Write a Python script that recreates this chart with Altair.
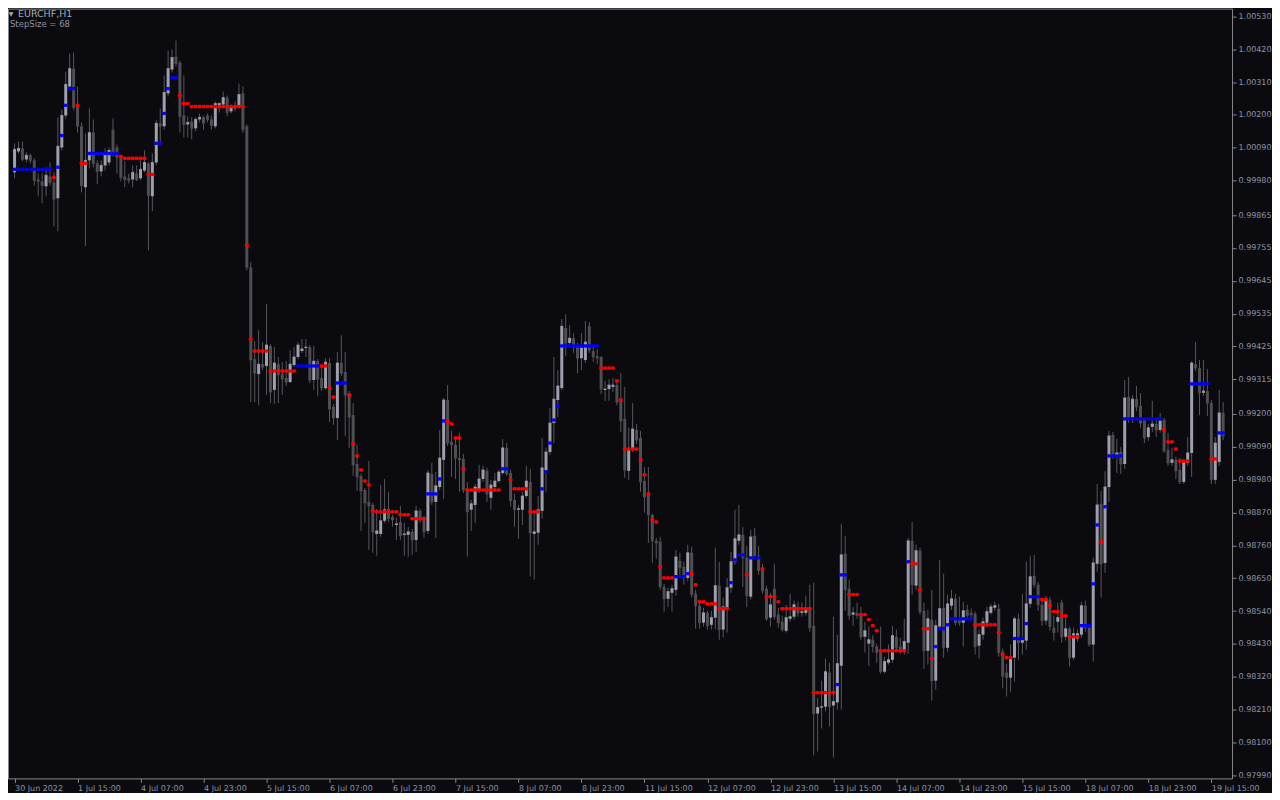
import altair as alt
import pandas as pd

# ---- EURCHF H1 candles (bar 0 = 30 Jun 2022 23:00) ----
opens = [
1.00008, 1.00078, 1.00088, 1.00051, 1.00065, 1.00048, 0.99984, 0.99978, 0.99961, 0.99994,
0.99974, 0.99921, 1.00091, 1.00198, 1.00295, 1.00355, 1.00228, 1.00162, 0.99958, 1.00048,
1.00141, 1.00038, 1.00011, 1.00031, 1.00041, 1.00151, 1.00091, 1.00058, 0.99994, 0.99988,
0.99984, 1.00004, 0.99988, 1.00014, 1.00038, 0.99928, 1.00041, 1.00172, 1.00162, 1.00272,
1.00352, 1.00395, 1.00375, 1.00198, 1.00168, 1.00178, 1.00155, 1.00185, 1.00192, 1.00198,
1.00185, 1.00162, 1.00232, 1.00235, 1.00258, 1.00212, 1.00232, 1.00228, 1.00272, 1.00162,
0.99690, 0.99383, 0.99333, 0.99366, 0.99360, 0.99427, 0.99280, 0.99366, 0.99333, 0.99320,
0.99306, 0.99363, 0.99390, 0.99410, 0.99420, 0.99423, 0.99313, 0.99376, 0.99320, 0.99286,
0.99370, 0.99223, 0.99186, 0.99370, 0.99340, 0.99269, 0.99196, 0.99032, 0.98992, 0.98945,
0.98905, 0.98895, 0.98798, 0.98798, 0.98842, 0.98882, 0.98855, 0.98828, 0.98838, 0.98795,
0.98795, 0.98805, 0.98778, 0.98875, 0.98852, 0.98808, 0.98999, 0.98905, 0.98955, 0.99046,
0.99246, 0.99106, 0.99096, 0.99052, 0.99049, 0.98949, 0.98879, 0.98895, 0.98945, 0.98982,
0.99009, 0.98919, 0.98955, 0.98975, 0.99002, 0.99086, 0.99002, 0.98912, 0.98879, 0.98879,
0.98925, 0.98972, 0.98798, 0.98802, 0.98875, 0.99012, 0.99072, 0.99169, 0.99246, 0.99286,
0.99487, 0.99437, 0.99453, 0.99423, 0.99386, 0.99380, 0.99493, 0.99410, 0.99393, 0.99390,
0.99280, 0.99283, 0.99290, 0.99296, 0.99243, 0.99183, 0.99009, 0.99079, 0.99146, 0.99119,
0.98975, 0.98929, 0.98862, 0.98775, 0.98772, 0.98621, 0.98581, 0.98601, 0.98611, 0.98708,
0.98688, 0.98651, 0.98735, 0.98598, 0.98558, 0.98501, 0.98534, 0.98494, 0.98518, 0.98625,
0.98478, 0.98551, 0.98618, 0.98705, 0.98775, 0.98795, 0.98718, 0.98588, 0.98792, 0.98725,
0.98678, 0.98615, 0.98518, 0.98615, 0.98528, 0.98504, 0.98474, 0.98514, 0.98521, 0.98554,
0.98534, 0.98534, 0.98551, 0.98491, 0.98197, 0.98217, 0.98220, 0.98334, 0.98224, 0.98234,
0.98357, 0.98732, 0.98615, 0.98528, 0.98534, 0.98528, 0.98454, 0.98431, 0.98444, 0.98421,
0.98407, 0.98337, 0.98367, 0.98377, 0.98454, 0.98421, 0.98404, 0.98434, 0.98775, 0.98625,
0.98742, 0.98541, 0.98407, 0.98511, 0.98307, 0.98488, 0.98551, 0.98417, 0.98558, 0.98581,
0.98511, 0.98501, 0.98544, 0.98534, 0.98531, 0.98424, 0.98461, 0.98501, 0.98534, 0.98551,
0.98548, 0.98404, 0.98334, 0.98317, 0.98384, 0.98514, 0.98434, 0.98441, 0.98564, 0.98658,
0.98628, 0.98561, 0.98508, 0.98578, 0.98484, 0.98504, 0.98568, 0.98454, 0.98481, 0.98384,
0.98448, 0.98461, 0.98558, 0.98484, 0.98428, 0.98698, 0.98899, 0.98701, 0.98955, 0.99129,
0.99059, 0.99072, 0.99032, 0.99256, 0.99186, 0.99249, 0.99226, 0.99179, 0.99122, 0.99156,
0.99166, 0.99146, 0.99179, 0.99079, 0.99036, 0.99046, 0.99012, 0.98972, 0.99036, 0.99069,
0.99366, 0.99353, 0.99270, 0.99276, 0.99236, 0.98979, 0.99039, 0.99203,
]

highs = [
1.00105, 1.00111, 1.00111, 1.00075, 1.00071, 1.00055, 1.00004, 1.00004, 1.00025, 1.00041,
1.00008, 1.00192, 1.00218, 1.00345, 1.00405, 1.00409, 1.00295, 1.00175, 1.00138, 1.00222,
1.00185, 1.00048, 1.00048, 1.00088, 1.00091, 1.00188, 1.00101, 1.00065, 1.00045, 1.00004,
1.00031, 1.00031, 1.00048, 1.00081, 1.00041, 1.00071, 1.00182, 1.00222, 1.00332, 1.00415,
1.00419, 1.00449, 1.00382, 1.00332, 1.00195, 1.00192, 1.00192, 1.00205, 1.00198, 1.00205,
1.00198, 1.00245, 1.00242, 1.00278, 1.00265, 1.00235, 1.00245, 1.00305, 1.00295, 1.00168,
0.99707, 0.99443, 0.99480, 0.99440, 0.99567, 0.99433, 0.99423, 0.99390, 0.99373, 0.99376,
0.99413, 0.99423, 0.99440, 0.99450, 0.99450, 0.99430, 0.99427, 0.99383, 0.99356, 0.99386,
0.99386, 0.99233, 0.99406, 0.99463, 0.99406, 0.99276, 0.99236, 0.99096, 0.98999, 0.98952,
0.99042, 0.98902, 0.98882, 0.98962, 0.98982, 0.98939, 0.98862, 0.98852, 0.98892, 0.98835,
0.98822, 0.98815, 0.98892, 0.98882, 0.98858, 0.99012, 0.99036, 0.99006, 0.99146, 0.99253,
0.99296, 0.99143, 0.99122, 0.99136, 0.99066, 0.98972, 0.98912, 0.98965, 0.99029, 0.99026,
0.99019, 0.98979, 0.99002, 0.99012, 0.99116, 0.99102, 0.99012, 0.98932, 0.98895, 0.98939,
0.99026, 0.99016, 0.98865, 0.98925, 0.99119, 0.99086, 0.99219, 0.99390, 0.99346, 0.99517,
0.99533, 0.99497, 0.99470, 0.99437, 0.99470, 0.99510, 0.99507, 0.99430, 0.99417, 0.99393,
0.99310, 0.99316, 0.99320, 0.99313, 0.99336, 0.99290, 0.99153, 0.99236, 0.99166, 0.99143,
0.99022, 0.99022, 0.98865, 0.98785, 0.98788, 0.98631, 0.98618, 0.98628, 0.98745, 0.98735,
0.98705, 0.98762, 0.98755, 0.98611, 0.98578, 0.98551, 0.98541, 0.98541, 0.98752, 0.98705,
0.98585, 0.98651, 0.98738, 0.98879, 0.98895, 0.98822, 0.98758, 0.98812, 0.98818, 0.98758,
0.98698, 0.98625, 0.98601, 0.98698, 0.98551, 0.98525, 0.98561, 0.98598, 0.98575, 0.98571,
0.98568, 0.98591, 0.98628, 0.98635, 0.98250, 0.98307, 0.98381, 0.98367, 0.98521, 0.98461,
0.98832, 0.98792, 0.98645, 0.98554, 0.98568, 0.98554, 0.98504, 0.98488, 0.98458, 0.98431,
0.98488, 0.98387, 0.98428, 0.98491, 0.98478, 0.98451, 0.98514, 0.98785, 0.98838, 0.98762,
0.98752, 0.98568, 0.98544, 0.98611, 0.98511, 0.98711, 0.98665, 0.98595, 0.98611, 0.98598,
0.98588, 0.98571, 0.98561, 0.98548, 0.98538, 0.98478, 0.98518, 0.98554, 0.98564, 0.98571,
0.98564, 0.98414, 0.98364, 0.98428, 0.98521, 0.98531, 0.98598, 0.98705, 0.98725, 0.98728,
0.98638, 0.98575, 0.98591, 0.98588, 0.98525, 0.98568, 0.98578, 0.98521, 0.98488, 0.98484,
0.98478, 0.98571, 0.98575, 0.98494, 0.98718, 0.98965, 0.98942, 0.99009, 0.99143, 0.99139,
0.99116, 0.99089, 0.99313, 0.99323, 0.99263, 0.99293, 0.99269, 0.99189, 0.99166, 0.99243,
0.99179, 0.99203, 0.99186, 0.99136, 0.99086, 0.99056, 0.99052, 0.99046, 0.99122, 0.99376,
0.99440, 0.99380, 0.99380, 0.99350, 0.99246, 0.99122, 0.99280, 0.99239,
]

lows = [
0.99988, 1.00071, 1.00045, 1.00041, 1.00038, 0.99964, 0.99928, 0.99904, 0.99928, 0.99964,
0.99827, 0.99811, 1.00081, 1.00188, 1.00282, 1.00215, 1.00141, 0.99941, 0.99761, 1.00021,
1.00024, 0.99968, 0.99994, 1.00014, 1.00031, 1.00061, 1.00004, 0.99978, 0.99958, 0.99971,
0.99958, 0.99978, 0.99981, 1.00008, 0.99747, 0.99878, 1.00031, 1.00108, 1.00151, 1.00262,
1.00342, 1.00362, 1.00141, 1.00125, 1.00125, 1.00118, 1.00145, 1.00175, 1.00151, 1.00175,
1.00151, 1.00155, 1.00208, 1.00222, 1.00195, 1.00205, 1.00212, 1.00222, 1.00141, 0.99680,
0.99239, 0.99239, 0.99229, 0.99346, 0.99263, 0.99236, 0.99233, 0.99236, 0.99263, 0.99293,
0.99303, 0.99356, 0.99383, 0.99403, 0.99390, 0.99303, 0.99280, 0.99259, 0.99276, 0.99280,
0.99173, 0.99163, 0.99112, 0.99326, 0.99126, 0.99086, 0.98992, 0.98942, 0.98808, 0.98835,
0.98745, 0.98735, 0.98725, 0.98788, 0.98835, 0.98838, 0.98822, 0.98778, 0.98778, 0.98725,
0.98722, 0.98728, 0.98738, 0.98835, 0.98785, 0.98798, 0.98895, 0.98785, 0.98945, 0.98915,
0.99092, 0.98989, 0.98982, 0.98939, 0.98935, 0.98722, 0.98808, 0.98835, 0.98935, 0.98972,
0.98905, 0.98879, 0.98945, 0.98969, 0.98996, 0.98992, 0.98889, 0.98822, 0.98782, 0.98828,
0.98919, 0.98655, 0.98645, 0.98762, 0.98849, 0.98939, 0.99062, 0.99102, 0.99189, 0.99280,
0.99393, 0.99427, 0.99403, 0.99336, 0.99346, 0.99370, 0.99403, 0.99373, 0.99366, 0.99266,
0.99243, 0.99243, 0.99273, 0.99229, 0.99139, 0.98986, 0.98979, 0.99072, 0.99099, 0.98939,
0.98869, 0.98768, 0.98701, 0.98715, 0.98611, 0.98538, 0.98554, 0.98538, 0.98591, 0.98661,
0.98628, 0.98641, 0.98585, 0.98481, 0.98481, 0.98488, 0.98478, 0.98478, 0.98478, 0.98444,
0.98451, 0.98468, 0.98601, 0.98695, 0.98762, 0.98621, 0.98554, 0.98578, 0.98715, 0.98661,
0.98598, 0.98508, 0.98488, 0.98511, 0.98484, 0.98471, 0.98468, 0.98504, 0.98511, 0.98521,
0.98521, 0.98525, 0.98471, 0.98057, 0.98070, 0.98147, 0.98204, 0.98154, 0.98050, 0.98210,
0.98210, 0.98541, 0.98511, 0.98491, 0.98514, 0.98444, 0.98401, 0.98357, 0.98401, 0.98367,
0.98331, 0.98331, 0.98361, 0.98367, 0.98407, 0.98397, 0.98394, 0.98397, 0.98595, 0.98611,
0.98528, 0.98347, 0.98361, 0.98240, 0.98277, 0.98478, 0.98384, 0.98404, 0.98544, 0.98491,
0.98491, 0.98421, 0.98511, 0.98518, 0.98394, 0.98381, 0.98444, 0.98484, 0.98528, 0.98541,
0.98387, 0.98281, 0.98254, 0.98270, 0.98304, 0.98377, 0.98394, 0.98411, 0.98551, 0.98618,
0.98541, 0.98491, 0.98494, 0.98474, 0.98441, 0.98468, 0.98434, 0.98441, 0.98354, 0.98377,
0.98438, 0.98451, 0.98471, 0.98421, 0.98371, 0.98671, 0.98585, 0.98668, 0.98905, 0.99049,
0.99002, 0.98999, 0.99016, 0.99169, 0.99169, 0.99209, 0.99153, 0.99102, 0.99109, 0.99139,
0.99122, 0.99136, 0.99069, 0.99026, 0.99026, 0.98982, 0.98965, 0.98965, 0.99026, 0.98989,
0.99343, 0.99196, 0.99259, 0.99193, 0.98965, 0.98965, 0.99026, 0.99112,
]

closes = [
1.00085, 1.00088, 1.00051, 1.00065, 1.00048, 0.99981, 0.99978, 0.99964, 0.99998, 0.99974,
0.99918, 1.00095, 1.00198, 1.00302, 1.00355, 1.00225, 1.00162, 0.99964, 1.00048, 1.00141,
1.00038, 1.00011, 1.00031, 1.00071, 1.00081, 1.00071, 1.00058, 0.99991, 0.99984, 0.99981,
1.00008, 0.99984, 1.00018, 1.00041, 0.99931, 1.00041, 1.00172, 1.00162, 1.00275, 1.00355,
1.00392, 1.00372, 1.00195, 1.00168, 1.00175, 1.00155, 1.00185, 1.00192, 1.00172, 1.00185,
1.00165, 1.00238, 1.00238, 1.00258, 1.00208, 1.00225, 1.00222, 1.00268, 1.00151, 0.99690,
0.99380, 0.99336, 0.99366, 0.99356, 0.99430, 0.99273, 0.99370, 0.99330, 0.99316, 0.99306,
0.99366, 0.99390, 0.99430, 0.99417, 0.99423, 0.99313, 0.99376, 0.99316, 0.99286, 0.99373,
0.99216, 0.99186, 0.99370, 0.99336, 0.99263, 0.99189, 0.99029, 0.98989, 0.98942, 0.98902,
0.98892, 0.98805, 0.98808, 0.98842, 0.98879, 0.98849, 0.98845, 0.98832, 0.98792, 0.98798,
0.98805, 0.98778, 0.98875, 0.98845, 0.98805, 0.99002, 0.98905, 0.98959, 0.99052, 0.99246,
0.99102, 0.99096, 0.99052, 0.99046, 0.98945, 0.98872, 0.98899, 0.98955, 0.98982, 0.99012,
0.98932, 0.98962, 0.98975, 0.99005, 0.99086, 0.98999, 0.98909, 0.98879, 0.98882, 0.98925,
0.98975, 0.98802, 0.98805, 0.98879, 0.99019, 0.99072, 0.99169, 0.99249, 0.99293, 0.99493,
0.99437, 0.99453, 0.99423, 0.99386, 0.99420, 0.99440, 0.99413, 0.99390, 0.99386, 0.99283,
0.99283, 0.99296, 0.99296, 0.99239, 0.99176, 0.99012, 0.99079, 0.99149, 0.99112, 0.98972,
0.98922, 0.98862, 0.98775, 0.98768, 0.98621, 0.98581, 0.98605, 0.98615, 0.98721, 0.98685,
0.98651, 0.98735, 0.98595, 0.98558, 0.98501, 0.98534, 0.98491, 0.98518, 0.98625, 0.98478,
0.98554, 0.98618, 0.98705, 0.98782, 0.98795, 0.98718, 0.98591, 0.98788, 0.98725, 0.98675,
0.98608, 0.98514, 0.98561, 0.98521, 0.98501, 0.98478, 0.98518, 0.98521, 0.98561, 0.98534,
0.98538, 0.98551, 0.98484, 0.98197, 0.98217, 0.98220, 0.98337, 0.98220, 0.98237, 0.98364,
0.98728, 0.98611, 0.98525, 0.98534, 0.98525, 0.98454, 0.98474, 0.98444, 0.98421, 0.98401,
0.98337, 0.98371, 0.98377, 0.98458, 0.98417, 0.98407, 0.98438, 0.98775, 0.98628, 0.98742,
0.98538, 0.98407, 0.98514, 0.98307, 0.98491, 0.98548, 0.98417, 0.98564, 0.98581, 0.98501,
0.98501, 0.98541, 0.98525, 0.98528, 0.98421, 0.98461, 0.98504, 0.98538, 0.98554, 0.98558,
0.98401, 0.98321, 0.98317, 0.98384, 0.98514, 0.98434, 0.98444, 0.98564, 0.98655, 0.98628,
0.98561, 0.98508, 0.98578, 0.98488, 0.98468, 0.98518, 0.98454, 0.98481, 0.98384, 0.98464,
0.98464, 0.98558, 0.98484, 0.98428, 0.98701, 0.98895, 0.98698, 0.98955, 0.99126, 0.99059,
0.99069, 0.99032, 0.99253, 0.99183, 0.99249, 0.99223, 0.99169, 0.99119, 0.99153, 0.99166,
0.99146, 0.99176, 0.99076, 0.99036, 0.99046, 0.99009, 0.98972, 0.99036, 0.99069, 0.99370,
0.99353, 0.99270, 0.99276, 0.99236, 0.98979, 0.99102, 0.99203, 0.99126,
]

# ---- StepSize = 68 indicator: runs of (level, bars, direction) ----
step_levels = [
1.00018, 0.99991, 1.00025, 1.00131, 1.00232, 1.00288, 1.00232, 1.00038, 1.00071, 1.00061,
1.00055, 1.00001, 1.00105, 1.00205, 1.00288, 1.00325, 1.00265, 1.00238, 1.00228, 0.99764,
0.99450, 0.99410, 0.99343, 0.99360, 0.99360, 0.99286, 0.99256, 0.99303, 0.99263, 0.99099,
0.99059, 0.99012, 0.98975, 0.98962, 0.98875, 0.98872, 0.98862, 0.98849, 0.98932, 0.98982,
0.99176, 0.99173, 0.99166, 0.99119, 0.99016, 0.98945, 0.99016, 0.98979, 0.98949, 0.98872,
0.98949, 0.99005, 0.99102, 0.99179, 0.99226, 0.99427, 0.99353, 0.99310, 0.99246, 0.99082,
0.99046, 0.98996, 0.98932, 0.98845, 0.98838, 0.98688, 0.98651, 0.98655, 0.98665, 0.98665,
0.98628, 0.98571, 0.98564, 0.98548, 0.98635, 0.98711, 0.98728, 0.98661, 0.98718, 0.98681,
0.98588, 0.98571, 0.98548, 0.98267, 0.98294, 0.98661, 0.98595, 0.98528, 0.98511, 0.98491,
0.98474, 0.98407, 0.98705, 0.98698, 0.98611, 0.98481, 0.98381, 0.98421, 0.98481, 0.98494,
0.98514, 0.98494, 0.98468, 0.98394, 0.98384, 0.98448, 0.98498, 0.98588, 0.98578, 0.98558,
0.98538, 0.98524, 0.98454, 0.98491, 0.98631, 0.98828, 0.98772, 0.98889, 0.99059, 0.99183,
0.99146, 0.99106, 0.99082, 0.99042, 0.99300, 0.99049, 0.99136,
]
step_counts = [
10, 1, 1, 1, 1, 2, 1, 2, 8, 1,
6, 2, 2, 1, 1, 2, 1, 2, 14, 1,
1, 4, 7, 6, 2, 1, 1, 3, 1, 1,
1, 1, 1, 1, 1, 6, 3, 4, 3, 1,
1, 1, 1, 2, 1, 9, 2, 1, 4, 3,
1, 1, 1, 1, 1, 10, 4, 1, 1, 4,
1, 1, 1, 1, 1, 1, 3, 3, 1, 1,
1, 2, 3, 3, 1, 1, 2, 1, 3, 1,
3, 1, 8, 6, 1, 2, 3, 2, 1, 1,
1, 7, 1, 2, 1, 2, 1, 1, 2, 1,
6, 6, 1, 1, 2, 3, 1, 3, 2, 1,
2, 2, 3, 3, 1, 1, 1, 1, 4, 10,
1, 2, 1, 3, 5, 2, 2,
]
step_dirs = [
1, -1, 1, 1, 1, 1, -1, -1, 1, -1,
-1, -1, 1, 1, 1, 1, -1, -1, -1, -1,
-1, -1, -1, 1, -1, -1, -1, 1, -1, -1,
-1, -1, -1, -1, -1, -1, -1, -1, 1, 1,
1, -1, -1, -1, -1, -1, 1, -1, -1, -1,
1, 1, 1, 1, 1, 1, -1, -1, -1, -1,
-1, -1, -1, -1, -1, -1, -1, 1, 1, -1,
-1, -1, -1, -1, 1, 1, 1, -1, 1, -1,
-1, -1, -1, -1, 1, 1, -1, -1, -1, -1,
-1, -1, 1, -1, -1, -1, -1, 1, 1, 1,
1, -1, -1, -1, -1, 1, 1, 1, -1, -1,
-1, -1, -1, 1, 1, 1, -1, 1, 1, 1,
-1, -1, -1, -1, 1, -1, 1,
]

x_labels = ["30 Jun 2022", "1 Jul 15:00", "4 Jul 07:00", "4 Jul 23:00", "5 Jul 15:00",
            "6 Jul 07:00", "6 Jul 23:00", "7 Jul 15:00", "8 Jul 07:00", "8 Jul 23:00",
            "11 Jul 15:00", "12 Jul 07:00", "12 Jul 23:00", "13 Jul 15:00", "14 Jul 07:00",
            "14 Jul 23:00", "15 Jul 15:00", "18 Jul 07:00", "18 Jul 23:00", "19 Jul 15:00"]
y_ticks = [1.00530, 1.00420, 1.00310, 1.00200, 1.00090, 0.99980, 0.99865, 0.99755,
           0.99645, 0.99535, 0.99425, 0.99315, 0.99200, 0.99090, 0.98980, 0.98870,
           0.98760, 0.98650, 0.98540, 0.98430, 0.98320, 0.98210, 0.98100, 0.97990]

# ---- build tables ----
n = min(len(opens), len(highs), len(lows), len(closes))
bars = pd.DataFrame({
    "i": list(range(n)),
    "open": opens[:n], "high": highs[:n], "low": lows[:n], "close": closes[:n],
})
bars["dir"] = ["bull" if c >= o else "bear" for o, c in zip(bars["open"], bars["close"])]

lv, dr = [], []
for level, cnt, d in zip(step_levels, step_counts, step_dirs):
    lv += [level] * cnt
    dr += ["up" if d > 0 else "down"] * cnt
m = min(n, len(lv))
dots = pd.DataFrame({"i": list(range(m)), "level": lv[:m], "trend": dr[:m]})

BG = "#0a0a0f"
TXT = "#8c96aa"
FRAME = "#8a8a8a"
FONT = "DejaVu Sans"

label_expr = "[" + ",".join("'" + s + "'" for s in x_labels) + "][round(datum.value/16)]"

xscale = alt.Scale(domain=[-0.4, 308.0], nice=False, zero=False)
yscale = alt.Scale(domain=[0.97980, 1.005557], nice=False, zero=False)

x_axis = alt.Axis(values=list(range(0, 16 * len(x_labels), 16)), labelExpr=label_expr,
                  orient="bottom", title=None, grid=False, domain=False,
                  tickSize=4, tickColor=FRAME, labelAlign="left", labelOffset=0,
                  labelPadding=2, labelFont=FONT, labelFontSize=8, labelColor=TXT,
                  labelOverlap=False, labelFlush=False)
y_axis = alt.Axis(values=y_ticks, format=".5f", orient="right", title=None, grid=False,
                  domain=False, tickSize=4, tickColor=FRAME, labelPadding=2,
                  labelFont=FONT, labelFontSize=8, labelColor=TXT, labelOverlap=False,
                  labelFlush=False)


def X():
    return alt.X("i:Q", scale=xscale, axis=x_axis, title=None)


def Y(field):
    return alt.Y(field + ":Q", scale=yscale, axis=y_axis, title=None)


candle_color = alt.Color("dir:N", scale=alt.Scale(domain=["bull", "bear"],
                                                   range=["#9ea0ae", "#4e4e53"]), legend=None)
dot_color = alt.Color("trend:N", scale=alt.Scale(domain=["up", "down"],
                                                  range=["#0000ff", "#ff0000"]), legend=None)

wicks = alt.Chart(bars).mark_rule(strokeWidth=1, color="#56565b").encode(
    x=X(), y=Y("low"), y2="high:Q",
)
bodies = alt.Chart(bars).mark_bar(size=3).encode(
    x=X(), y=Y("open"), y2="close:Q", color=candle_color,
)
doji = alt.Chart(bars).mark_tick(orient="horizontal", size=3, thickness=1).encode(
    x=X(), y=Y("close"), color=candle_color,
)
candles = alt.layer(wicks, bodies, doji)

dot_wings = alt.Chart(dots).mark_tick(orient="horizontal", size=5, thickness=1).encode(
    x=X(), y=Y("level"), color=dot_color,
)
dot_core = alt.Chart(dots).mark_square(size=11, opacity=1, filled=True).encode(
    x=X(), y=Y("level"), color=dot_color,
)
steps = alt.layer(dot_wings, dot_core)

title_df = pd.DataFrame({"t": ["EURCHF,H1"]})
step_df = pd.DataFrame({"t": ["StepSize = 68"]})
tri_df = pd.DataFrame({"t": ["\u25bc"]})

title_txt = alt.Chart(title_df).mark_text(align="left", baseline="top", font=FONT,
                                          fontSize=9.5, color="#a3abbd").encode(
    x=alt.value(10), y=alt.value(0), text="t:N")
tri_txt = alt.Chart(tri_df).mark_text(align="center", baseline="top", font=FONT,
                                      fontSize=6, color="#a3abbd").encode(
    x=alt.value(3), y=alt.value(2), text="t:N")
step_txt = alt.Chart(step_df).mark_text(align="left", baseline="middle", font=FONT,
                                        fontSize=8.5, color=TXT).encode(
    x=alt.value(2), y=alt.value(15), text="t:N")

chart = alt.layer(candles, steps, title_txt, tri_txt, step_txt).resolve_scale(
    color="independent"
).properties(
    width=1226, height=771, background=BG,
    padding={"left": 0, "top": 0, "right": 0, "bottom": 0},
).configure_view(stroke=FRAME, strokeWidth=1, fill=BG)

chart.save("out.html", embed_options={"renderer": "svg", "actions": False})
